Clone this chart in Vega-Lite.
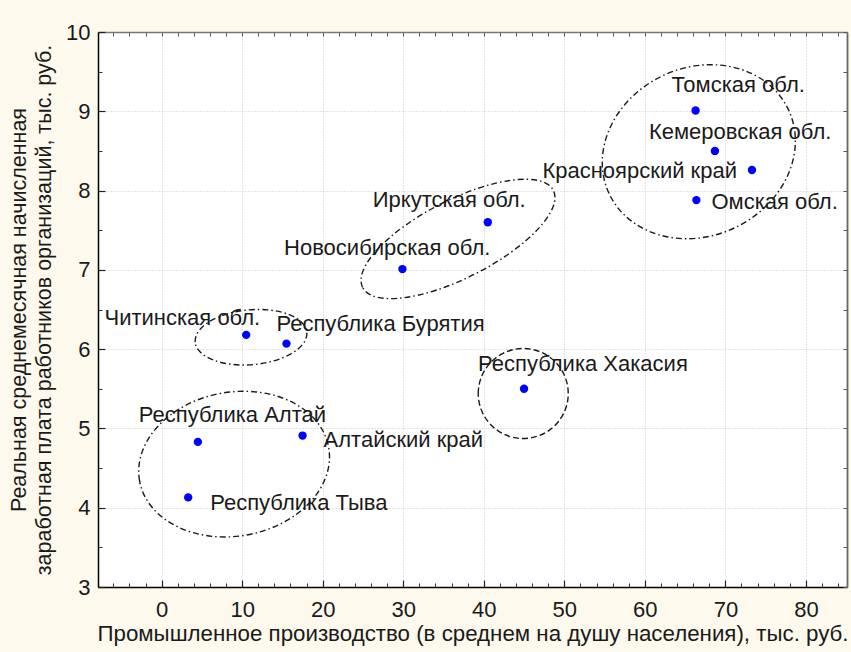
{
  "$schema": "https://vega.github.io/schema/vega-lite/v6.json",
  "width": 749,
  "height": 555,
  "autosize": {"type": "none"},
  "padding": {"left": 98, "top": 32, "right": 4, "bottom": 65},
  "background": "#fdf9ec",
  "config": {
    "view": {"fill": "white", "stroke": null},
    "font": "Liberation Sans",
    "text": {"font": "Liberation Sans", "fontSize": 22, "color": "#1a1a1a", "baseline": "middle"}
  },
  "datasets": {
    "regions": [
      {"name": "Томская обл.", "x": 66.3, "y": 9.01},
      {"name": "Кемеровская обл.", "x": 68.7, "y": 8.5},
      {"name": "Красноярский край", "x": 73.3, "y": 8.26},
      {"name": "Омская обл.", "x": 66.4, "y": 7.88},
      {"name": "Иркутская обл.", "x": 40.5, "y": 7.6},
      {"name": "Новосибирская обл.", "x": 29.9, "y": 7.01},
      {"name": "Республика Хакасия", "x": 45.0, "y": 5.5},
      {"name": "Читинская обл.", "x": 10.5, "y": 6.18},
      {"name": "Республика Бурятия", "x": 15.5, "y": 6.07},
      {"name": "Республика Алтай", "x": 4.5, "y": 4.83},
      {"name": "Алтайский край", "x": 17.5, "y": 4.91},
      {"name": "Республика Тыва", "x": 3.3, "y": 4.13}
    ],
    "clusters": [
      {"group": "A", "cx": 66.7, "cy": 8.49},
      {"group": "B", "cx": 36.8, "cy": 7.39},
      {"group": "C", "cx": 44.9, "cy": 5.44},
      {"group": "D", "cx": 11.1, "cy": 6.15},
      {"group": "E", "cx": 9.0, "cy": 4.55}
    ]
  },
  "resolve": {"axis": {"x": "independent", "y": "independent"}},
  "layer": [
    {
      "data": {"name": "regions"},
      "mark": {"type": "point", "opacity": 0},
      "encoding": {
        "x": {"field": "x", "type": "quantitative", "scale": {"domain": [-7.9, 85.1], "nice": false, "zero": false},
          "axis": {"orient": "bottom", "values": [-6,-4,-2,2,4,6,8,12,14,16,18,22,24,26,28,32,34,36,38,42,44,46,48,52,54,56,58,62,64,66,68,72,74,76,78,82,84],
            "labels": false, "domain": false, "grid": false, "tickSize": -4, "tickColor": "#333", "tickWidth": 1, "title": null}},
        "y": {"field": "y", "type": "quantitative", "scale": {"domain": [3, 10], "nice": false, "zero": false},
          "axis": {"orient": "left", "values": [3.5,4.5,5.5,6.5,7.5,8.5,9.5],
            "labels": false, "domain": false, "grid": false, "tickSize": -4, "tickColor": "#333", "tickWidth": 1, "title": null}}
      }
    },
    {
      "data": {"name": "regions"},
      "mark": {"type": "point", "opacity": 0},
      "encoding": {
        "x": {"field": "x", "type": "quantitative",
          "axis": {"orient": "top", "values": [-6,-4,-2,0,2,4,6,8,10,12,14,16,18,20,22,24,26,28,30,32,34,36,38,40,42,44,46,48,50,52,54,56,58,60,62,64,66,68,70,72,74,76,78,80,82,84],
            "labels": false, "domain": true, "domainColor": "#777", "domainWidth": 1.5, "grid": false, "tickSize": -4, "tickColor": "#555", "tickWidth": 1, "title": null}},
        "y": {"field": "y", "type": "quantitative",
          "axis": {"orient": "right", "values": [3,3.5,4,4.5,5,5.5,6,6.5,7,7.5,8,8.5,9,9.5,10],
            "labels": false, "domain": true, "domainColor": "#666", "domainWidth": 1.8, "grid": false, "tickSize": -4, "tickColor": "#555", "tickWidth": 1, "title": null}}
      }
    },
    {
      "data": {"name": "clusters"},
      "transform": [{"filter": {"field": "group", "equal": "A"}}],
      "mark": {"type": "point", "filled": false, "shape": "M -1 0 A 1 0.85 0 1 1 1 0 A 1 0.85 0 1 1 -1 0 Z", "size": 39204, "angle": 335, "stroke": "#1a1a1a", "strokeWidth": 1.4, "strokeDash": [6, 3, 1.5, 3], "opacity": 1},
      "encoding": {"x": {"field": "cx", "type": "quantitative", "axis": null}, "y": {"field": "cy", "type": "quantitative", "axis": null}}
    },
    {
      "data": {"name": "clusters"},
      "transform": [{"filter": {"field": "group", "equal": "B"}}],
      "mark": {"type": "point", "filled": false, "shape": "M -1 0 A 1 0.364 0 1 1 1 0 A 1 0.364 0 1 1 -1 0 Z", "size": 45796, "angle": 333, "stroke": "#1a1a1a", "strokeWidth": 1.4, "strokeDash": [6, 3, 1.5, 3], "opacity": 1},
      "encoding": {"x": {"field": "cx", "type": "quantitative", "axis": null}, "y": {"field": "cy", "type": "quantitative", "axis": null}}
    },
    {
      "data": {"name": "clusters"},
      "transform": [{"filter": {"field": "group", "equal": "C"}}],
      "mark": {"type": "point", "filled": false, "shape": "M -1 0 A 1 1 0 1 1 1 0 A 1 1 0 1 1 -1 0 Z", "size": 8100, "stroke": "#1a1a1a", "strokeWidth": 1.4, "strokeDash": [6, 3], "opacity": 1},
      "encoding": {"x": {"field": "cx", "type": "quantitative", "axis": null}, "y": {"field": "cy", "type": "quantitative", "axis": null}}
    },
    {
      "data": {"name": "clusters"},
      "transform": [{"filter": {"field": "group", "equal": "D"}}],
      "mark": {"type": "point", "filled": false, "shape": "M -1 0 A 1 0.49 0 1 1 1 0 A 1 0.49 0 1 1 -1 0 Z", "size": 12544, "angle": 355, "stroke": "#1a1a1a", "strokeWidth": 1.4, "strokeDash": [6, 3, 1.5, 3], "opacity": 1},
      "encoding": {"x": {"field": "cx", "type": "quantitative", "axis": null}, "y": {"field": "cy", "type": "quantitative", "axis": null}}
    },
    {
      "data": {"name": "clusters"},
      "transform": [{"filter": {"field": "group", "equal": "E"}}],
      "mark": {"type": "point", "filled": false, "shape": "M -1 0 A 1 0.75 0 1 1 1 0 A 1 0.75 0 1 1 -1 0 Z", "size": 36864, "angle": 350, "stroke": "#1a1a1a", "strokeWidth": 1.4, "strokeDash": [6, 3, 1.5, 3], "opacity": 1},
      "encoding": {"x": {"field": "cx", "type": "quantitative", "axis": null}, "y": {"field": "cy", "type": "quantitative", "axis": null}}
    },
    {
      "data": {"name": "regions"},
      "mark": {"type": "point", "filled": true, "shape": "circle", "size": 70, "color": "#0000ff", "opacity": 1},
      "encoding": {
        "x": {"field": "x", "type": "quantitative",
          "axis": {"orient": "bottom", "values": [0,10,20,30,40,50,60,70,80],
            "title": "Промышленное производство (в среднем на душу населения), тыс. руб.",
            "titleFont": "Liberation Sans", "titleFontSize": 22.3, "titleFontWeight": "normal", "titleColor": "#1a1a1a", "titlePadding": 2,
            "labelFont": "Liberation Sans", "labelFontSize": 22, "labelColor": "#1a1a1a", "labelPadding": 19, "labelFlush": false,
            "tickSize": -7, "tickColor": "#222", "tickWidth": 1.2,
            "domainColor": "#000", "domainWidth": 1.5,
            "grid": true, "gridColor": "#c8c8c8", "gridDash": [1, 2], "gridWidth": 1}},
        "y": {"field": "y", "type": "quantitative",
          "axis": {"orient": "left", "values": [3,4,5,6,7,8,9,10],
            "title": ["Реальная среднемесячная начисленная", "заработная плата работников организаций, тыс. руб."],
            "titleFont": "Liberation Sans", "titleFontSize": 21.5, "titleFontWeight": "normal", "titleColor": "#1a1a1a", "titlePadding": 10, "titleLineHeight": 25,
            "labelFont": "Liberation Sans", "labelFontSize": 22, "labelColor": "#1a1a1a", "labelPadding": 15, "labelFlush": false,
            "tickSize": -7, "tickColor": "#222", "tickWidth": 1.2,
            "domainColor": "#000", "domainWidth": 1.5,
            "grid": true, "gridColor": "#c8c8c8", "gridDash": [1, 2], "gridWidth": 1}}
      }
    },
    {"data": {"name": "regions"}, "transform": [{"filter": {"field": "name", "equal": "Томская обл."}}],
      "mark": {"type": "text", "align": "left", "dx": -24, "dy": -25},
      "encoding": {"x": {"field": "x", "type": "quantitative", "axis": null}, "y": {"field": "y", "type": "quantitative", "axis": null}, "text": {"field": "name"}}},
    {"data": {"name": "regions"}, "transform": [{"filter": {"field": "name", "equal": "Кемеровская обл."}}],
      "mark": {"type": "text", "align": "left", "dx": -66, "dy": -19},
      "encoding": {"x": {"field": "x", "type": "quantitative", "axis": null}, "y": {"field": "y", "type": "quantitative", "axis": null}, "text": {"field": "name"}}},
    {"data": {"name": "regions"}, "transform": [{"filter": {"field": "name", "equal": "Красноярский край"}}],
      "mark": {"type": "text", "align": "right", "dx": -15, "dy": 1},
      "encoding": {"x": {"field": "x", "type": "quantitative", "axis": null}, "y": {"field": "y", "type": "quantitative", "axis": null}, "text": {"field": "name"}}},
    {"data": {"name": "regions"}, "transform": [{"filter": {"field": "name", "equal": "Омская обл."}}],
      "mark": {"type": "text", "align": "left", "dx": 15, "dy": 2},
      "encoding": {"x": {"field": "x", "type": "quantitative", "axis": null}, "y": {"field": "y", "type": "quantitative", "axis": null}, "text": {"field": "name"}}},
    {"data": {"name": "regions"}, "transform": [{"filter": {"field": "name", "equal": "Иркутская обл."}}],
      "mark": {"type": "text", "align": "left", "dx": -115, "dy": -22},
      "encoding": {"x": {"field": "x", "type": "quantitative", "axis": null}, "y": {"field": "y", "type": "quantitative", "axis": null}, "text": {"field": "name"}}},
    {"data": {"name": "regions"}, "transform": [{"filter": {"field": "name", "equal": "Новосибирская обл."}}],
      "mark": {"type": "text", "align": "right", "dx": 88, "dy": -21},
      "encoding": {"x": {"field": "x", "type": "quantitative", "axis": null}, "y": {"field": "y", "type": "quantitative", "axis": null}, "text": {"field": "name"}}},
    {"data": {"name": "regions"}, "transform": [{"filter": {"field": "name", "equal": "Республика Хакасия"}}],
      "mark": {"type": "text", "align": "left", "dx": -46, "dy": -25},
      "encoding": {"x": {"field": "x", "type": "quantitative", "axis": null}, "y": {"field": "y", "type": "quantitative", "axis": null}, "text": {"field": "name"}}},
    {"data": {"name": "regions"}, "transform": [{"filter": {"field": "name", "equal": "Читинская обл."}}],
      "mark": {"type": "text", "align": "right", "dx": 14, "dy": -17},
      "encoding": {"x": {"field": "x", "type": "quantitative", "axis": null}, "y": {"field": "y", "type": "quantitative", "axis": null}, "text": {"field": "name"}}},
    {"data": {"name": "regions"}, "transform": [{"filter": {"field": "name", "equal": "Республика Бурятия"}}],
      "mark": {"type": "text", "align": "left", "dx": -10, "dy": -20},
      "encoding": {"x": {"field": "x", "type": "quantitative", "axis": null}, "y": {"field": "y", "type": "quantitative", "axis": null}, "text": {"field": "name"}}},
    {"data": {"name": "regions"}, "transform": [{"filter": {"field": "name", "equal": "Республика Алтай"}}],
      "mark": {"type": "text", "align": "left", "dx": -59, "dy": -27},
      "encoding": {"x": {"field": "x", "type": "quantitative", "axis": null}, "y": {"field": "y", "type": "quantitative", "axis": null}, "text": {"field": "name"}}},
    {"data": {"name": "regions"}, "transform": [{"filter": {"field": "name", "equal": "Алтайский край"}}],
      "mark": {"type": "text", "align": "left", "dx": 21, "dy": 4},
      "encoding": {"x": {"field": "x", "type": "quantitative", "axis": null}, "y": {"field": "y", "type": "quantitative", "axis": null}, "text": {"field": "name"}}},
    {"data": {"name": "regions"}, "transform": [{"filter": {"field": "name", "equal": "Республика Тыва"}}],
      "mark": {"type": "text", "align": "left", "dx": 22, "dy": 6},
      "encoding": {"x": {"field": "x", "type": "quantitative", "axis": null}, "y": {"field": "y", "type": "quantitative", "axis": null}, "text": {"field": "name"}}}
  ]
}
